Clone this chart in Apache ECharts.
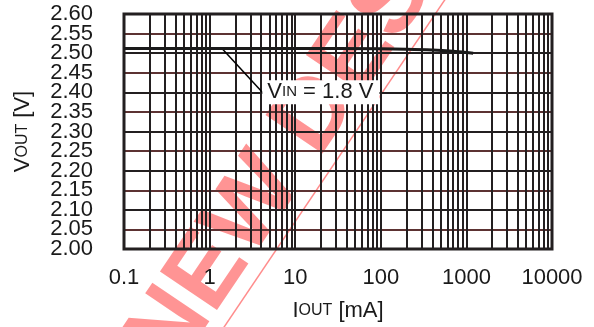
<!DOCTYPE html>
<html>
<head>
<meta charset="utf-8">
<script src="https://cdn.jsdelivr.net/npm/echarts@6/dist/echarts.min.js"></script>
<style>html,body{margin:0;padding:0;background:#fff}#c{width:594px;height:327px}</style>
</head>
<body>
<div id="c"></div>
<script>
// ---- data ----
var currentMA = [0.1, 1, 10, 100, 200, 400, 700, 1000, 1200];
var voutV = [2.512, 2.512, 2.512, 2.511, 2.510, 2.508, 2.505, 2.502, 2.500];
var xTicks = [0.1, 1, 10, 100, 1000, 10000];
var yMin = 2.00, yMax = 2.60, yStep = 0.05;
var decades = [0.1, 1, 10, 100, 1000];
var minorMult = [2, 3, 4, 5, 6, 7, 8, 9];
var leaderFrom = [1.37, 2.514];
var leaderTo = [4.13, 2.40];
var annotation = 'V_IN = 1.8 V';
var watermark = 'NEW DESIGN';

var FONT = '"Liberation Sans", Arial, sans-serif';
var INK = '#1a1a1a';

var minorLines = [];
decades.forEach(function (d) {
  minorMult.forEach(function (m) { minorLines.push({ xAxis: +(d * m).toPrecision(3) }); });
});

function isEven(v) { return Math.round((v - yMin) / yStep) % 2 === 0; }

function yAxisDef(showEven, withGrid) {
  return {
    type: 'value', min: yMin, max: yMax, interval: yStep, position: 'left',
    axisLine: { show: false }, axisTick: { show: false },
    axisLabel: { fontFamily: FONT, fontSize: 22, color: INK, margin: 31, showMinLabel: true, showMaxLabel: true, hideOverlap: false,
      formatter: function (v) { return isEven(v) === showEven ? v.toFixed(2) : ''; } },
    splitLine: { show: withGrid, lineStyle: { color: ['#231f20', '#5c3232'], width: 2 } }
  };
}

var yA = yAxisDef(true, true);
yA.name = '{a|V}{b|OUT}{a| [V]}';
yA.nameLocation = 'middle';
yA.nameGap = 90;
yA.nameTextStyle = { rich: { a: { fontFamily: FONT, fontSize: 22, color: INK }, b: { fontFamily: FONT, fontSize: 16, color: INK } } };
var yB = yAxisDef(false, false);

var chart = echarts.init(document.getElementById('c'), null, { renderer: 'canvas' });
chart.setOption({
  animation: false,
  backgroundColor: '#fff',
  grid: { left: 124, top: 14, width: 428, height: 235, show: true, borderColor: '#231f20', borderWidth: 3, backgroundColor: 'transparent', z: 3 },
  xAxis: {
    type: 'log', logBase: 10, min: 0.1, max: 10000,
    axisLine: { show: false }, axisTick: { show: false },
    axisLabel: { fontFamily: FONT, fontSize: 22, color: INK, margin: 18, showMinLabel: true, showMaxLabel: true, hideOverlap: false,
      formatter: function (v) { return xTicks.indexOf(+v.toPrecision(3)) >= 0 ? String(+v.toPrecision(3)) : ''; } },
    splitLine: { show: true, lineStyle: { color: '#231f20', width: 2 } },
    name: '{a|I}{b|OUT}{a| [mA]}', nameLocation: 'middle', nameGap: 51,
    nameTextStyle: { rich: { a: { fontFamily: FONT, fontSize: 22, color: INK }, b: { fontFamily: FONT, fontSize: 16, color: INK } } }
  },
  yAxis: [yA, yB],
  series: [
    {
      type: 'line', data: [], silent: true,
      markLine: { silent: true, symbol: 'none', label: { show: false },
        lineStyle: { color: '#231f20', width: 2, type: 'solid' }, data: minorLines, z: 1 }
    },
    {
      type: 'line', z: 5, symbol: 'none', smooth: 0.3, yAxisIndex: 0,
      data: currentMA.map(function (x, i) { return [x, voutV[i]]; }),
      lineStyle: { color: '#1a1a1a', width: 3 },
      markLine: { silent: true, symbol: 'none', label: { show: false },
        lineStyle: { color: '#000', width: 1.5, type: 'solid' },
        data: [[{ coord: leaderFrom }, { coord: leaderTo }]] },
      markPoint: {
        silent: true, symbol: 'circle', symbolSize: 0,
        data: [{ coord: leaderTo, value: 0 }],
        label: { show: true, position: 'right', distance: 0,
          formatter: function () { var p = annotation.split('_IN'); return '{a|' + p[0] + '}{b|IN}{a|' + p[1] + '}'; },
          backgroundColor: '#fff', padding: [1, 6, 1, 5],
          rich: { a: { fontFamily: FONT, fontSize: 22, color: INK }, b: { fontFamily: FONT, fontSize: 15, color: INK } } }
      }
    }
  ],
  graphic: [{
    type: 'group', x: 150, y: 360, rotation: 56 * Math.PI / 180, z: 100, silent: true,
    children: [
      { type: 'text', x: 0, y: 0, style: { text: watermark, fontSize: 100, fontWeight: 'bold', fontFamily: 'Liberation Sans', fill: 'rgba(255,0,0,0.42)', align: 'left', verticalAlign: 'middle' } },
      { type: 'line', shape: { x1: -200, y1: 43, x2: 1000, y2: 43 }, style: { stroke: 'rgba(255,0,0,0.45)', lineWidth: 1.5 } }
    ]
  }]
});
</script>
</body>
</html>
